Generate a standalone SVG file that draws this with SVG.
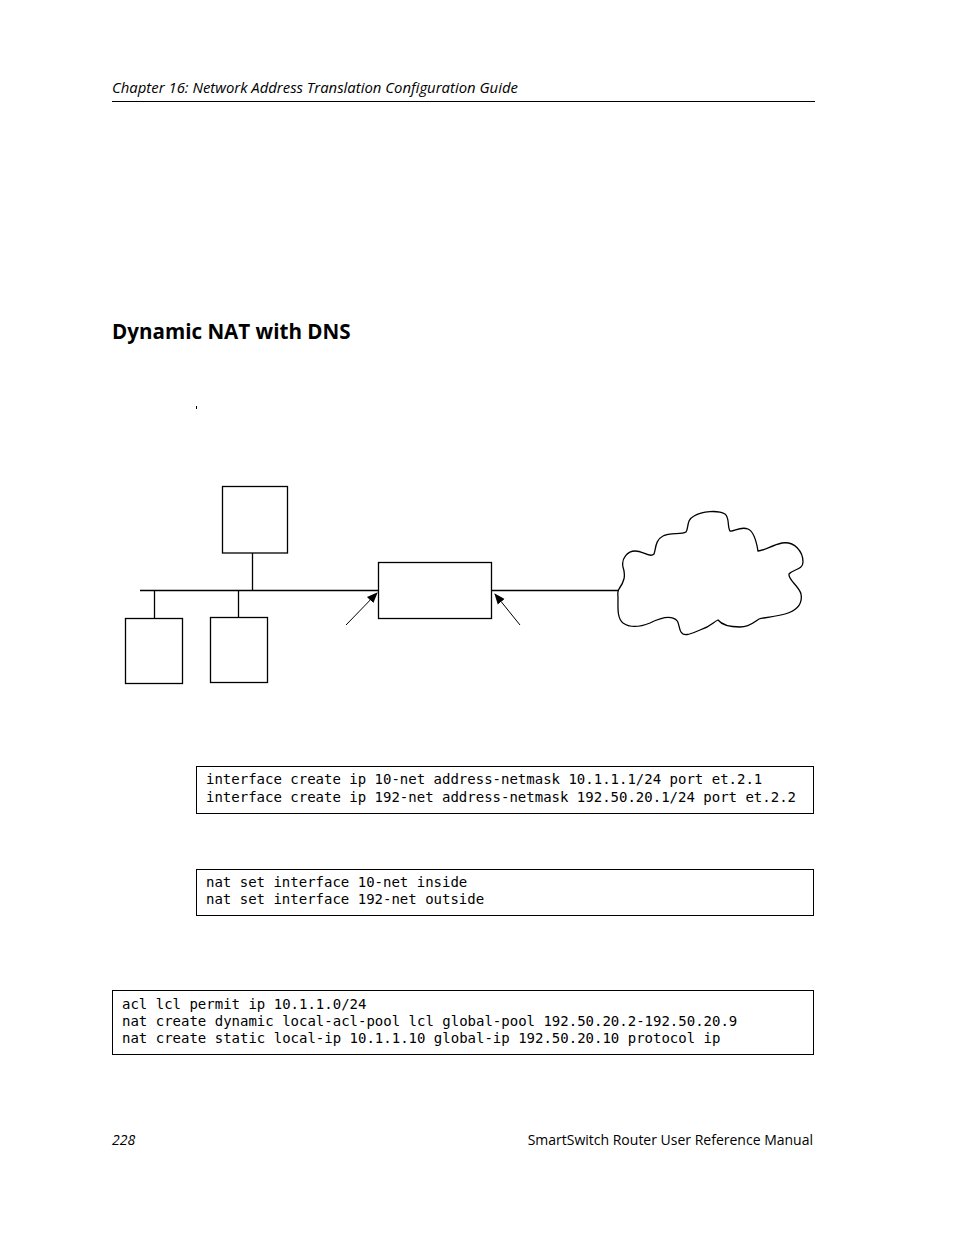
<svg xmlns="http://www.w3.org/2000/svg" width="954" height="1235" viewBox="0 0 954 1235">
<defs>
<style>
.hdr{font-family:"Open Sans","Noto Sans","DejaVu Sans",sans-serif;font-style:italic;font-size:14.9px;fill:#000}
.ttl{font-family:"Open Sans","Noto Sans","DejaVu Sans",sans-serif;font-weight:bold;font-size:20.6px;fill:#000}
.ftr{font-family:"Open Sans","Noto Sans","DejaVu Sans",sans-serif;font-style:italic;font-size:14px;fill:#000}
.code{font-family:"DejaVu Sans Mono","Liberation Mono",monospace;font-size:14px;fill:#000}
.box{fill:#fff;stroke:#000;stroke-width:1.3}
.ln{stroke:#000;stroke-width:1.3;fill:none}
.arr{stroke:#000;stroke-width:1;fill:none}
.cbox{fill:none;stroke:#000;stroke-width:1}
</style>
<marker id="ah" viewBox="0 0 10 10" refX="9" refY="5" markerWidth="11" markerHeight="11" markerUnits="userSpaceOnUse" orient="auto">
<path d="M0,1 L10,5 L0,9 Z" fill="#000"/>
</marker>
</defs>
<rect width="954" height="1235" fill="#fff"/>

<g id="header">
<text class="hdr" x="112" y="93">Chapter 16: Network Address Translation Configuration Guide</text>
<line x1="112" y1="101.5" x2="815" y2="101.5" stroke="#000" stroke-width="1"/>
</g>
<text class="ttl" x="112" y="339">Dynamic NAT with DNS</text>
<rect x="196" y="406" width="1" height="3" fill="#000"/>

<g id="connectors">
<line class="ln" x1="140" y1="590.5" x2="379" y2="590.5"/>
<line class="ln" x1="491" y1="590.5" x2="619" y2="590.5"/>
<line class="ln" x1="252.5" y1="553" x2="252.5" y2="590.5"/>
<line class="ln" x1="154.5" y1="590.5" x2="154.5" y2="618"/>
<line class="ln" x1="238.5" y1="590.5" x2="238.5" y2="617"/>
<line class="arr" x1="346" y1="625" x2="377" y2="593" marker-end="url(#ah)"/>
<line class="arr" x1="520" y1="625" x2="495" y2="594" marker-end="url(#ah)"/>
</g>

<g id="server-top"><rect class="box" x="222.5" y="486.5" width="65" height="66.5"/></g>
<g id="host-left"><rect class="box" x="125.5" y="618.5" width="57" height="65"/></g>
<g id="host-mid"><rect class="box" x="210.5" y="617.5" width="57" height="65"/></g>
<g id="router"><rect class="box" x="378.5" y="562.5" width="113" height="56"/></g>
<g id="cloud">
<path class="ln" stroke-width="1" d="M619,589 C624,582 626,576 623,567 C621,558 628,551 635,551 C643,551 650,558 654,554 C656,549 655,540 663,536 C670,532 681,535 686,532 C689,528 686,520 694,516 C702,511 718,510 725,514 C730,518 727,527 730,531 C734,532 740,526 748,529 C755,532 757,545 758,551 C764,551 772,545 782,543 C795,541 803,552 803,562 C803,570 793,569 789,574 C788,580 799,586 801,594 C803,605 795,611 785,614 C775,617 765,617 759,619 C754,622 750,627 740,627 C730,627 722,625 718,620 C713,622 712,626 700,630 C690,634 684,637 681,632 C678,627 680,620 673,618 C666,616 656,620 650,623 C640,627 630,628 623,623 C617,618 618,608 618,598 C618,594 617,591 619,589 Z"/>
</g>

<g id="code1">
<rect class="cbox" x="196.5" y="766.5" width="617" height="47"/>
<text class="code" x="206" y="784">interface create ip 10-net address-netmask 10.1.1.1/24 port et.2.1</text>
<text class="code" x="206" y="802">interface create ip 192-net address-netmask 192.50.20.1/24 port et.2.2</text>
</g>
<g id="code2">
<rect class="cbox" x="196.5" y="869.5" width="617" height="46"/>
<text class="code" x="206" y="887">nat set interface 10-net inside</text>
<text class="code" x="206" y="904">nat set interface 192-net outside</text>
</g>
<g id="code3">
<rect class="cbox" x="112.5" y="990.5" width="701" height="64"/>
<text class="code" x="122" y="1009">acl lcl permit ip 10.1.1.0/24</text>
<text class="code" x="122" y="1026">nat create dynamic local-acl-pool lcl global-pool 192.50.20.2-192.50.20.9</text>
<text class="code" x="122" y="1043">nat create static local-ip 10.1.1.10 global-ip 192.50.20.10 protocol ip</text>
</g>

<g id="footer">
<text class="ftr" x="112" y="1145">228</text>
<text class="ftr" x="813" y="1145" text-anchor="end" style="font-style:normal">SmartSwitch Router User Reference Manual</text>
</g>
</svg>
